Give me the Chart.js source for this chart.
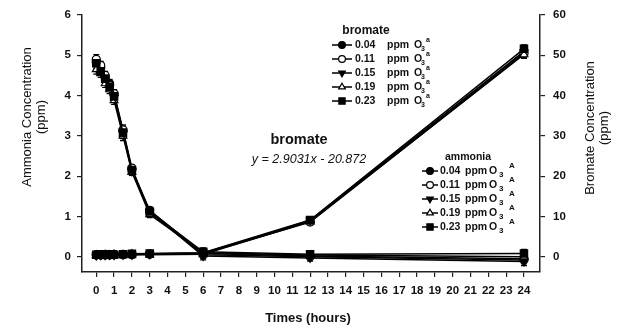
<!DOCTYPE html>
<html>
<head>
<meta charset="utf-8">
<script src="https://cdn.jsdelivr.net/npm/chart.js@4/dist/chart.umd.min.js"></script>
<style>
  html, body { margin: 0; padding: 0; background: #fff; }
  #wrap { width: 620px; height: 327px; }
</style>
</head>
<body>
<div id="wrap"><canvas id="ozoneChart" width="620" height="327"></canvas></div>
<script>
// sampling times (hours)
const hours = [0, 0.25, 0.5, 0.75, 1, 1.5, 2, 3, 6, 12, 24];
const doses = ["0.04", "0.11", "0.15", "0.19", "0.23"];
const xTicks = [0, 1, 2, 3, 4, 5, 6, 7, 8, 9, 10, 11, 12, 13, 14, 15, 16, 17, 18, 19, 20, 21, 22, 23, 24];

// ammonia, ppm (left axis)
const ammonia004 = [4.85, 4.70, 4.45, 4.30, 4.02, 3.12, 2.16, 1.15, 0.08, 0.02, -0.05];
const ammonia011 = [4.90, 4.75, 4.50, 4.25, 4.05, 3.15, 2.20, 1.10, 0.05, 0.00, -0.08];
const ammonia015 = [4.75, 4.62, 4.38, 4.20, 3.95, 3.05, 2.12, 1.12, 0.02, -0.03, -0.12];
const ammonia019 = [4.65, 4.55, 4.30, 4.15, 3.88, 3.00, 2.10, 1.05, 0.10, 0.04, 0.00];
const ammonia023 = [4.80, 4.60, 4.42, 4.22, 3.98, 3.08, 2.15, 1.12, 0.12, 0.06, 0.08];
const ammoniaErr = [0.12, 0.10, 0.10, 0.10, 0.10, 0.12, 0.08, 0.08, 0.10, 0.08, 0.10];

// bromate, ppm (right axis)
const bromate004 = [0.4, 0.5, 0.4, 0.5, 0.6, 0.5, 0.6, 0.7, 0.9, 8.8, 51.0];
const bromate011 = [0.5, 0.4, 0.5, 0.4, 0.5, 0.6, 0.5, 0.6, 0.7, 8.6, 50.4];
const bromate015 = [0.3, 0.4, 0.4, 0.5, 0.4, 0.5, 0.5, 0.6, 0.8, 9.0, 50.8];
const bromate019 = [0.4, 0.3, 0.5, 0.4, 0.5, 0.4, 0.6, 0.5, 0.6, 8.7, 50.2];
const bromate023 = [0.5, 0.6, 0.5, 0.6, 0.5, 0.6, 0.7, 0.8, 1.0, 9.1, 51.6];
const bromateErr = [0.3, 0.3, 0.3, 0.3, 0.3, 0.3, 0.3, 0.3, 0.5, 0.8, 1.0];

const ammoniaSeries = [ammonia004, ammonia011, ammonia015, ammonia019, ammonia023];
const bromateSeries = [bromate004, bromate011, bromate015, bromate019, bromate023];

// one marker per ozone dose: filled circle, open circle, filled down-triangle, open triangle, filled square
const markers = [
  { pointStyle: "circle", rotation: 0, fill: "#000", radius: 4 },
  { pointStyle: "circle", rotation: 0, fill: "#fff", radius: 4 },
  { pointStyle: "triangle", rotation: 180, fill: "#000", radius: 4.5 },
  { pointStyle: "triangle", rotation: 0, fill: "#fff", radius: 4.5 },
  { pointStyle: "rect", rotation: 0, fill: "#000", radius: 5.2 }
];

function makeDataset(values, errors, i, axis) {
  const m = markers[i];
  return {
    label: doses[i] + " ppm O3",
    data: values.map((v, k) => ({ x: hours[k], y: v })),
    errors,
    yAxisID: axis,
    borderColor: "#000",
    borderWidth: 1.5,
    tension: 0,
    fill: false,
    pointStyle: m.pointStyle,
    rotation: m.rotation,
    pointRadius: m.radius,
    pointBackgroundColor: m.fill,
    pointBorderColor: "#000",
    pointBorderWidth: 1.2,
    order: 4 - i
  };
}

const datasets = [];
ammoniaSeries.forEach((s, i) => datasets.push(makeDataset(s, ammoniaErr, i, "y")));
bromateSeries.forEach((s, i) => datasets.push(makeDataset(s, bromateErr, i, "yBr")));

// vertical error bars with caps, drawn under the markers
const errorBars = {
  id: "errorBars",
  beforeDatasetsDraw(chart) {
    const ctx = chart.ctx;
    const xs = chart.scales.x;
    ctx.save();
    ctx.strokeStyle = "#000";
    ctx.lineWidth = 1.2;
    chart.data.datasets.forEach(ds => {
      const ys = chart.scales[ds.yAxisID];
      ds.data.forEach((p, k) => {
        const e = ds.errors[k];
        const px = xs.getPixelForValue(p.x);
        const top = ys.getPixelForValue(p.y + e);
        const bot = ys.getPixelForValue(p.y - e);
        ctx.beginPath();
        ctx.moveTo(px, top); ctx.lineTo(px, bot);
        ctx.moveTo(px - 3, top); ctx.lineTo(px + 3, top);
        ctx.moveTo(px - 3, bot); ctx.lineTo(px + 3, bot);
        ctx.stroke();
      });
    });
    ctx.restore();
  }
};

function vText(ctx, text, x, y) {
  ctx.save();
  ctx.translate(x, y);
  ctx.rotate(-Math.PI / 2);
  ctx.fillText(text, 0, 0);
  ctx.restore();
}

function legendRow(ctx, i, y, cfg) {
  const m = markers[i];
  ctx.strokeStyle = "#000";
  ctx.lineWidth = 1.5;
  ctx.beginPath();
  ctx.moveTo(cfg.lineX0, y); ctx.lineTo(cfg.lineX1, y);
  ctx.stroke();
  ctx.fillStyle = m.fill;
  ctx.lineWidth = 1.2;
  Chart.helpers.drawPoint(ctx, { pointStyle: m.pointStyle, rotation: m.rotation, radius: m.radius * 0.85, borderWidth: 1.2 },
    (cfg.lineX0 + cfg.lineX1) / 2, y);
  ctx.fillStyle = "#111";
  ctx.textAlign = "left";
  ctx.textBaseline = "middle";
  ctx.font = cfg.font;
  ctx.fillText(doses[i], cfg.numX, y);
  ctx.fillText("ppm", cfg.ppmX, y);
  ctx.fillText("O", cfg.oX, y);
  ctx.font = cfg.smallFont;
  ctx.fillText("3", cfg.subX, y + 4);
  ctx.fillText(cfg.sup, cfg.supX, y - 5);
}

// titles, legends and the fit annotation
const labels = {
  id: "labels",
  afterDraw(chart) {
    const ctx = chart.ctx;
    ctx.save();
    ctx.fillStyle = "#111";
    ctx.textAlign = "center";
    ctx.textBaseline = "middle";

    ctx.font = "13px 'Liberation Sans', Arial, sans-serif";
    vText(ctx, "Ammonia Concentration", 27, 117);
    vText(ctx, "(ppm)", 41, 117);
    vText(ctx, "Bromate Concentration", 590, 128);
    vText(ctx, "(ppm)", 604, 128);

    ctx.font = "bold 13px 'Liberation Sans', Arial, sans-serif";
    ctx.fillText("Times (hours)", 308, 318);

    ctx.font = "bold 14.5px 'Liberation Sans', Arial, sans-serif";
    ctx.fillText("bromate", 299, 140);
    ctx.font = "italic 12.5px 'Liberation Sans', Arial, sans-serif";
    ctx.fillText("y = 2.9031x - 20.872", 309, 160);

    ctx.font = "bold 12px 'Liberation Sans', Arial, sans-serif";
    ctx.fillText("bromate", 366, 31);
    ctx.font = "bold 10.5px 'Liberation Sans', Arial, sans-serif";
    ctx.fillText("ammonia", 468, 157);

    const bromLegend = { lineX0: 332, lineX1: 352, numX: 355, ppmX: 387, oX: 414, subX: 421, supX: 426, sup: "a",
      font: "bold 10.5px 'Liberation Sans', Arial, sans-serif", smallFont: "bold 7px 'Liberation Sans', Arial, sans-serif" };
    const ammLegend = { lineX0: 422, lineX1: 438, numX: 440, ppmX: 465, oX: 489, subX: 499, supX: 509, sup: "A",
      font: "bold 10.5px 'Liberation Sans', Arial, sans-serif", smallFont: "bold 8px 'Liberation Sans', Arial, sans-serif" };
    for (let i = 0; i < 5; i++) {
      legendRow(ctx, i, 45 + i * 14, bromLegend);
      legendRow(ctx, i, 171 + i * 14, ammLegend);
    }
    ctx.restore();
  }
};

const tickFont = { family: "'Liberation Sans', Arial, sans-serif", size: 11.5, weight: "bold" };
const axisGrid = { display: true, drawOnChartArea: false, drawTicks: true, tickLength: 5, color: "#222", lineWidth: 1.2 };
const axisBorder = { display: true, color: "#222", width: 1.5 };

new Chart(document.getElementById("ozoneChart"), {
  type: "line",
  data: { datasets },
  options: {
    responsive: false,
    animation: false,
    layout: { padding: { top: 15, left: 0, right: 0, bottom: 0 } },
    plugins: { legend: { display: false }, tooltip: { enabled: false } },
    scales: {
      x: {
        type: "linear",
        min: -0.8,
        max: 24.9,
        afterFit: s => { s.height = 55; },
        afterBuildTicks: s => { s.ticks = xTicks.map(v => ({ value: v })); },
        ticks: { font: tickFont, color: "#111", padding: 7, maxRotation: 0, autoSkip: false },
        grid: axisGrid,
        border: axisBorder
      },
      y: {
        position: "left",
        min: -0.38,
        max: 6,
        afterFit: s => { s.width = 82; },
        ticks: { stepSize: 1, includeBounds: false, font: tickFont, color: "#111", padding: 6 },
        grid: axisGrid,
        border: axisBorder
      },
      yBr: {
        position: "right",
        min: -3.8,
        max: 60,
        afterFit: s => { s.width = 80; },
        ticks: { stepSize: 10, includeBounds: false, font: tickFont, color: "#111", padding: 8 },
        grid: axisGrid,
        border: axisBorder
      }
    }
  },
  plugins: [errorBars, labels]
});
</script>
</body>
</html>
